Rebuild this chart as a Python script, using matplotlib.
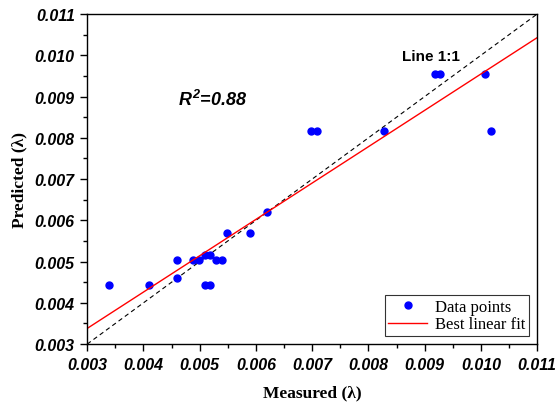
import numpy as np
import matplotlib.pyplot as plt
from matplotlib.ticker import MultipleLocator, FormatStrFormatter

# Measured vs predicted values
measured = [0.00339, 0.00409, 0.00459, 0.00459, 0.00488, 0.00499, 0.00509, 0.00519,
            0.00509, 0.00519, 0.00529, 0.00539, 0.00548, 0.00589, 0.00619, 0.00698,
            0.00708, 0.00828, 0.00918, 0.00928, 0.01008, 0.01018]
predicted = [0.00444, 0.00444, 0.00504, 0.00459, 0.00504, 0.00504, 0.00515, 0.00515,
             0.00444, 0.00444, 0.00504, 0.00504, 0.00570, 0.00570, 0.00620, 0.00816,
             0.00816, 0.00816, 0.00955, 0.00955, 0.00955, 0.00816]

# Best linear fit as drawn (slope, intercept)
fit_slope = 0.881
fit_intercept = 0.000737
r2_value = "0.88"

lims = [0.003, 0.011]

plt.rcParams["mathtext.fontset"] = "custom"
plt.rcParams["mathtext.it"] = "Liberation Sans:bold:italic"
plt.rcParams["mathtext.rm"] = "Liberation Sans:bold:italic"
plt.rcParams["mathtext.bf"] = "Liberation Sans:bold:italic"

fig, ax = plt.subplots(figsize=(5.59, 4.06), dpi=100)
fig.subplots_adjust(left=0.156, right=0.961, top=0.963, bottom=0.150)

xs = np.array(lims)
ax.plot(xs, xs, color="black", linestyle=(0, (4, 3)), linewidth=0.8)
ax.plot(measured, predicted, "o", color="blue", markersize=5, label="Data points")
ax.plot(xs, fit_slope * xs + fit_intercept, color="red", linewidth=1.0,
        label="Best linear fit")

ax.set_xlim(lims)
ax.set_ylim(lims)
ax.xaxis.set_major_locator(MultipleLocator(0.001))
ax.yaxis.set_major_locator(MultipleLocator(0.001))
ax.xaxis.set_minor_locator(MultipleLocator(0.0005))
ax.yaxis.set_minor_locator(MultipleLocator(0.0005))
ax.xaxis.set_major_formatter(FormatStrFormatter("%.3f"))
ax.yaxis.set_major_formatter(FormatStrFormatter("%.3f"))
ax.tick_params(which="both", direction="out", top=False, right=False)
ax.tick_params(which="major", length=5, width=1, pad=4)
ax.tick_params(which="minor", length=3, width=1)
for lab in ax.get_xticklabels() + ax.get_yticklabels():
    lab.set_fontfamily("Liberation Sans")
    lab.set_fontweight("bold")
    lab.set_fontstyle("italic")
    lab.set_fontsize(11.5)
for sp in ax.spines.values():
    sp.set_linewidth(1.0)

ax.set_xlabel("Measured (λ)", fontfamily="Liberation Serif", fontweight="bold",
              fontsize=12.5, labelpad=9)
ax.set_ylabel("Predicted (λ)", fontfamily="Liberation Serif", fontweight="bold",
              fontsize=12.5, labelpad=5)

ax.text(0.00462, 0.00894, r"$R^{2}$=" + r2_value,
        fontfamily="Liberation Sans", fontweight="bold", fontstyle="italic",
        fontsize=13, va="center", ha="left")
ax.text(0.0086, 0.00998, "Line 1:1", fontfamily="Liberation Sans", fontweight="bold",
        fontsize=11, va="center", ha="left")

leg = ax.legend(loc="lower right", prop={"family": "Liberation Serif", "size": 12},
                frameon=True, fancybox=False, edgecolor="black", handlelength=2.3,
                borderpad=0.2, labelspacing=0.1, handletextpad=0.5,
                borderaxespad=0.5, numpoints=1)
leg.get_frame().set_linewidth(0.8)

fig.savefig("out.png", dpi=100)
